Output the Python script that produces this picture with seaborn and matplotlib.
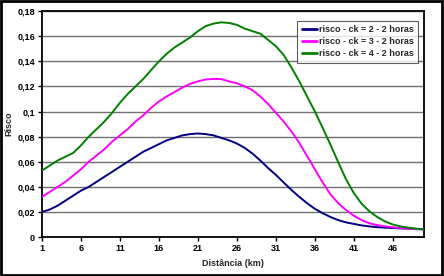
import numpy as np
import pandas as pd
import matplotlib
matplotlib.use("Agg")
import matplotlib.pyplot as plt
import seaborn as sns
from matplotlib.patches import Rectangle

# distance (km) 1..50
distancia = list(range(1, 51))

risco_ck2 = [0.020, 0.022, 0.025, 0.029, 0.033, 0.037, 0.040, 0.044, 0.048, 0.052,
             0.056, 0.060, 0.064, 0.068, 0.071, 0.074, 0.077, 0.079, 0.081, 0.082,
             0.0825, 0.082, 0.081, 0.079, 0.077, 0.0745, 0.071, 0.0665, 0.061, 0.055,
             0.0495, 0.0435, 0.0375, 0.032, 0.027, 0.0225, 0.019, 0.016, 0.0135, 0.0117,
             0.0105, 0.0093, 0.0085, 0.0079, 0.0075, 0.0072, 0.0069, 0.0067, 0.0065, 0.0064]

risco_ck3 = [0.032, 0.036, 0.040, 0.044, 0.049, 0.054, 0.060, 0.065, 0.070, 0.076,
             0.081, 0.086, 0.092, 0.097, 0.103, 0.108, 0.112, 0.1155, 0.119, 0.122,
             0.124, 0.1255, 0.126, 0.1258, 0.124, 0.1225, 0.120, 0.117, 0.112, 0.106,
             0.099, 0.092, 0.084, 0.075, 0.0645, 0.054, 0.0435, 0.034, 0.027, 0.0215,
             0.017, 0.0135, 0.011, 0.0095, 0.0085, 0.0078, 0.0072, 0.0067, 0.0063, 0.006]

risco_ck4 = [0.053, 0.057, 0.061, 0.064, 0.067, 0.073, 0.080, 0.086, 0.092, 0.099,
             0.107, 0.114, 0.120, 0.126, 0.133, 0.140, 0.146, 0.151, 0.155, 0.159,
             0.164, 0.168, 0.170, 0.171, 0.1705, 0.169, 0.166, 0.164, 0.162, 0.157,
             0.152, 0.145, 0.135, 0.124, 0.112, 0.100, 0.087, 0.0735, 0.0595, 0.046,
             0.035, 0.0265, 0.0205, 0.016, 0.0125, 0.010, 0.0085, 0.0075, 0.0067, 0.006]

series_names = ["risco - ck = 2 - 2 horas", "risco - ck = 3 - 2 horas", "risco - ck = 4 - 2 horas"]
cores = ["#000080", "#FF00FF", "#008000"]

y_ticks = [0, 0.02, 0.04, 0.06, 0.08, 0.1, 0.12, 0.14, 0.16, 0.18]
y_labels = ["0", "0,02", "0,04", "0,06", "0,08", "0,1", "0,12", "0,14", "0,16", "0,18"]
x_ticks = [1, 6, 11, 16, 21, 26, 31, 36, 41, 46]

df = pd.DataFrame({
    "Distancia": distancia * 3,
    "Risco": risco_ck2 + risco_ck3 + risco_ck4,
    "serie": [series_names[0]] * 50 + [series_names[1]] * 50 + [series_names[2]] * 50,
})

sns.set_style("white")
plt.rcParams["font.family"] = ["Liberation Sans", "DejaVu Sans"]

fig = plt.figure(figsize=(4.44, 2.76), dpi=100)
ax = fig.add_axes([0.0946, 0.141, 0.8604, 0.819])

# grid first
for yv in y_ticks[1:]:
    ax.axhline(yv, color="#707070", lw=1.0, zorder=1)

sns.lineplot(data=df, x="Distancia", y="Risco", hue="serie", palette=cores,
             linewidth=1.4, ax=ax, zorder=3)

ax.set_xlim(1, 50)
ax.set_ylim(0, 0.18)
ax.set_yticks(y_ticks)
ax.set_yticklabels(y_labels)
ax.set_xticks(x_ticks)
ax.tick_params(axis="both", direction="out", length=3, width=1, labelsize=6.5,
               colors="black", pad=2, left=True, bottom=True)
for lab in ax.get_xticklabels() + ax.get_yticklabels():
    lab.set_fontweight("bold")
for s in ax.spines.values():
    s.set_color("black")
    s.set_linewidth(1.3)

ax.set_xlabel("Distância (km)", fontsize=6.5, fontweight="bold", labelpad=4)
ax.set_ylabel("Risco", fontsize=6.5, fontweight="bold", labelpad=3)

leg = ax.legend(loc="upper right", bbox_to_anchor=(0.985, 0.958), fontsize=6.5,
                frameon=True, fancybox=False, handlelength=1.7, handletextpad=0.2,
                borderpad=0.5, labelspacing=0.35, borderaxespad=0)
leg.get_frame().set_edgecolor("#333333")
leg.get_frame().set_linewidth(0.8)
for t in leg.get_texts():
    t.set_fontweight("bold")
for l in leg.get_lines():
    l.set_linewidth(2)

fig.patches.append(Rectangle((0.003, 0.004), 0.992, 0.992, transform=fig.transFigure,
                             fill=False, edgecolor="black", lw=2))

fig.savefig("out.png", dpi=100)
